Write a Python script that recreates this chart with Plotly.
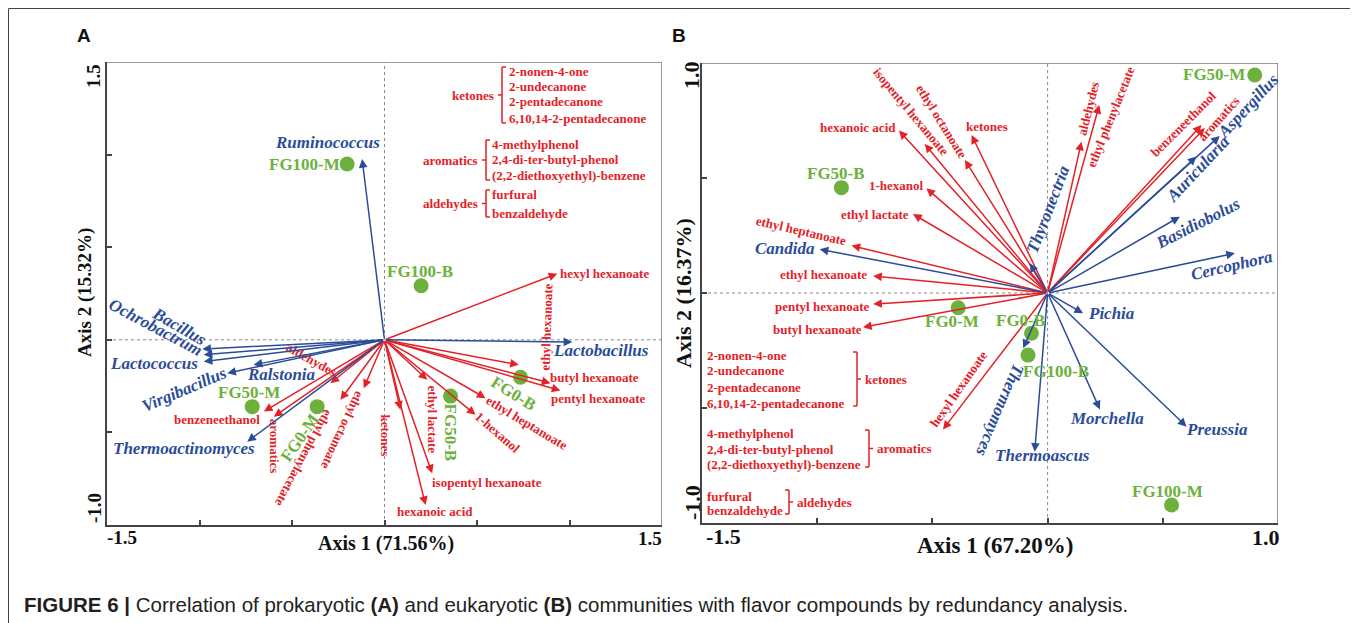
import plotly.graph_objects as go

# page is photographed at 1358x623; the HTML body has an 8px margin
PAGE_W, PAGE_H = 1358, 623
OFF = 8
W, H = PAGE_W - OFF, PAGE_H - OFF

# ---------------- Panel A (prokaryotic) data ----------------
A_species = ["Ruminococcus", "Lactobacillus", "Bacillus", "Ochrobactrum", "Lactococcus",
             "Virgibacillus", "Ralstonia", "Thermoactinomyces"]
A_species_x = [-0.121, 1.015, -0.985, -0.977, -0.977, -0.850, -0.707, -0.742]
A_species_y = [0.976, -0.012, -0.050, -0.081, -0.117, -0.180, -0.135, -0.550]

A_comp = ["hexyl hexanoate", "ethyl hexanoate", "butyl hexanoate", "pentyl hexanoate",
          "ethyl heptanoate", "1-hexanol", "ethyl lactate", "isopentyl hexanoate",
          "hexanoic acid", "ketones", "ethyl octanoate", "ethyl phenylacetate",
          "aromatics", "benzeneethanol", "aldehydes"]
A_comp_x = [0.934, 0.726, 0.897, 0.951, 0.546, 0.492, 0.231, 0.258, 0.222, 0.086,
            -0.112, -0.238, -0.598, -0.652, -0.292]
A_comp_y = [0.357, -0.135, -0.234, -0.274, -0.315, -0.405, -0.216, -0.721, -0.892, -0.378,
            -0.261, -0.324, -0.415, -0.387, -0.234]

A_samples = ["FG100-M", "FG100-B", "FG50-M", "FG0-M", "FG0-B", "FG50-B"]
A_samples_x = [-0.202, 0.198, -0.715, -0.364, 0.735, 0.357]
A_samples_y = [0.949, 0.292, -0.361, -0.361, -0.202, -0.304]

A_xrange = [-1.5, 1.5]
A_yrange = [-1.0, 1.5]
A_xticks = [-1.5, -1.0, -0.5, 0.0, 0.5, 1.0, 1.5]
A_yticks = [-1.0, -0.5, 0.0, 0.5, 1.0, 1.5]
A_xticklabels = ["-1.5", "1.5"]
A_yticklabels = ["1.5", "-1.0"]
A_xtitle = "Axis 1 (71.56%)"
A_ytitle = "Axis 2 (15.32%)"

# ---------------- Panel B (eukaryotic) data ----------------
B_species = ["Aspergillus", "Auricularia", "Basidiobolus", "Cercophora", "Thyronectria",
             "Candida", "Pichia", "Morchella", "Preussia", "Thermoascus", "Thermomyces"]
B_species_x = [0.747, 0.646, 0.574, 0.813, -0.077, -0.989, 0.154, 0.227, 0.603, -0.056, -0.106]
B_species_y = [0.683, 0.593, 0.332, 0.173, 0.129, 0.190, -0.088, -0.506, -0.581, -0.690, -0.240]

B_comp = ["hexanoic acid", "isopentyl hexanoate", "ethyl octanoate", "ketones", "1-hexanol",
          "ethyl lactate", "ethyl heptanoate", "ethyl hexanoate", "pentyl hexanoate",
          "butyl hexanoate", "hexyl hexanoate", "aldehydes", "ethyl phenylacetate",
          "benzeneethanol", "aromatics"]
B_comp_x = [-0.645, -0.533, -0.359, -0.330, -0.526, -0.584, -0.851, -0.757, -0.757, -0.801,
            -0.454, 0.147, 0.224, 0.668, 0.682]
B_comp_y = [0.706, 0.648, 0.578, 0.687, 0.455, 0.343, 0.206, 0.074, -0.048, -0.149,
            -0.593, 0.658, 0.817, 0.730, 0.717]

B_samples = ["FG50-M", "FG50-B", "FG0-M", "FG0-B", "FG100-B", "FG100-M"]
B_samples_x = [0.899, -0.895, -0.388, -0.070, -0.085, 0.538]
B_samples_y = [0.948, 0.458, -0.064, -0.175, -0.270, -0.922]

B_xrange = [-1.5, 1.0]
B_yrange = [-1.0, 1.0]
B_xticks = [-1.5, -1.0, -0.5, 0.0, 0.5, 1.0]
B_yticks = [-1.0, -0.5, 0.0, 0.5, 1.0]
B_xticklabels = ["-1.5", "1.0"]
B_yticklabels = ["1.0", "-1.0"]
B_xtitle = "Axis 1 (67.20%)"
B_ytitle = "Axis 2 (16.37%)"

# grouped compound classes
ket_items = ["2-nonen-4-one", "2-undecanone", "2-pentadecanone", "6,10,14-2-pentadecanone"]
aro_items = ["4-methylphenol", "2,4-di-ter-butyl-phenol", "(2,2-diethoxyethyl)-benzene"]
ald_items = ["furfural", "benzaldehyde"]
group_names = ["ketones", "aromatics", "aldehydes"]

caption = ("<b>FIGURE 6 |</b> Correlation of prokaryotic <b>(A)</b> and eukaryotic <b>(B)</b> "
           "communities with flavor compounds by redundancy analysis.")

# ---------------- label layout (pixel offsets: dx, dy up, angle) ----------------
A_species_lbl = [(-35, 17, 0), (29, -8, 0), (-23, 23, 30), (-48, 27, 28), (-50, -2, 0),
                 (-43, -16, -23), (28, -10, 0), (-63, -7, 0)]
A_comp_lbl = [(47, 0, 0), (28, 38, -88), (44, 6, 0), (38, -8, 0), (41, -24, 31), (22, -18, 41),
              (5, -40, 90), (55, -9, 0), (9, -6, 0), (-15, -26, 90), (-21, -42, 115),
              (-37, -58, 118), (0, -30, 90), (-47, -8, 0), (-19, 24, 29)]
A_samples_lbl = [(-43, 0, 0), (-1, 14, 0), (-3, 14, 0), (-17, -31, -55), (-7, -16, 32), (0, -36, 90)]

B_species_lbl = [(29, 30, -47), (2, -12, -47), (18, -7, -27), (-3, -12, -13), (18, 54, -69),
                 (-35, 1, 0), (28, 0, 0), (7, -9, 0), (30, -3, 0), (8, -4, 0), (-23, -62, 113)]
B_comp_lbl = [(-41, 3, 0), (-14, 32, 50), (-23, 39, 58), (15, 8, 0), (-30, 3, 0), (-38, 0, 0),
              (-51, 15, 13), (-50, 1, 0), (-51, -2, 0), (-46, -2, 0), (15, 40, -55),
              (7, 33, -76), (11, -12, -68), (-19, 1, -45), (14, 10, -48)]
B_samples_lbl = [(-41, 0, 0), (-5, 14, 0), (-6, -14, 0), (-11, 13, 0), (28, -16, 0), (-4, 14, 0)]

RED = "#e32228"
BLUE = "#2a4c99"
GREEN = "#6cb13c"
SERIF = "Liberation Serif, Times New Roman, serif"
SANS = "Liberation Sans, Arial, sans-serif"


def P(px, py):
    """page pixel -> paper fraction"""
    return (px - OFF) / W, 1 - (py - OFF) / H


def dom_x(p0, p1):
    return [(p0 - OFF) / W, (p1 - OFF) / W]


def dom_y(top, bottom):
    return [1 - (bottom - OFF) / H, 1 - (top - OFF) / H]


fig = go.Figure()
annotations = []
shapes = []

# samples (green dots)
for xs, ys, xr, yr in [(A_samples_x, A_samples_y, "x", "y"), (B_samples_x, B_samples_y, "x2", "y2")]:
    fig.add_trace(go.Scatter(x=xs, y=ys, xaxis=xr, yaxis=yr, mode="markers",
                             marker=dict(size=15, color=GREEN), hoverinfo="skip"))


def add_vectors(xs, ys, names, lbls, color, xr, yr, fsize, italic):
    for x, y, n, (dx, dy, ang) in zip(xs, ys, names, lbls):
        annotations.append(dict(x=x, y=y, ax=0, ay=0, xref=xr, yref=yr, axref=xr, ayref=yr,
                                showarrow=True, arrowhead=2, arrowsize=1.15, arrowwidth=1.5,
                                arrowcolor=color, text="", standoff=0))
        t = f"<b><i>{n}</i></b>" if italic else f"<b>{n}</b>"
        annotations.append(dict(x=x, y=y, xref=xr, yref=yr, text=t, showarrow=False,
                                xshift=dx, yshift=dy, textangle=ang,
                                font=dict(family=SERIF, size=fsize, color=color)))


def add_sample_labels(xs, ys, names, lbls, xr, yr):
    for x, y, n, (dx, dy, ang) in zip(xs, ys, names, lbls):
        annotations.append(dict(x=x, y=y, xref=xr, yref=yr, text=f"<b>{n}</b>", showarrow=False,
                                xshift=dx, yshift=dy, textangle=ang,
                                font=dict(family=SERIF, size=17, color=GREEN)))


add_vectors(A_comp_x, A_comp_y, A_comp, A_comp_lbl, RED, "x", "y", 13, False)
add_vectors(A_species_x, A_species_y, A_species, A_species_lbl, BLUE, "x", "y", 17, True)
add_sample_labels(A_samples_x, A_samples_y, A_samples, A_samples_lbl, "x", "y")
add_vectors(B_comp_x, B_comp_y, B_comp, B_comp_lbl, RED, "x2", "y2", 13, False)
add_vectors(B_species_x, B_species_y, B_species, B_species_lbl, BLUE, "x2", "y2", 17, True)
add_sample_labels(B_samples_x, B_samples_y, B_samples, B_samples_lbl, "x2", "y2")


def line_px(x0, y0, x1, y1, color=RED, width=1.5):
    a0, b0 = P(x0, y0)
    a1, b1 = P(x1, y1)
    shapes.append(dict(type="line", xref="paper", yref="paper", x0=a0, y0=b0, x1=a1, y1=b1,
                       line=dict(color=color, width=width)))


def text_px(px, py, t, size, color, anchor="left", angle=0, family=SERIF):
    a, b = P(px, py)
    annotations.append(dict(x=a, y=b, xref="paper", yref="paper", text=t, showarrow=False,
                            xanchor=anchor, yanchor="middle", textangle=angle,
                            font=dict(family=family, size=size, color=color)))


def group(items, name, item_x, item_ys, bx, by0, by1, side):
    for t, y in zip(items, item_ys):
        text_px(item_x, y, f"<b>{t}</b>", 13, RED, "left")
    ym = (by0 + by1) / 2
    s = 4 if side == "left" else -4
    line_px(bx, by0, bx, by1)
    line_px(bx, by0, bx + s, by0)
    line_px(bx, by1, bx + s, by1)
    line_px(bx - s, ym, bx, ym)
    if side == "left":
        text_px(bx - s - 2, ym, f"<b>{name}</b>", 13, RED, "right")
    else:
        text_px(bx - s + 2, ym, f"<b>{name}</b>", 13, RED, "left")


# Panel A groups (bracket opens to the right)
group(ket_items, group_names[0], 507, [71.7, 86.5, 102, 119], 502, 67, 123, "left")
group(aro_items, group_names[1], 490, [144.3, 159.8, 175.7], 486, 140, 180, "left")
group(ald_items, group_names[2], 490, [194.3, 213.3], 486, 190, 217, "left")
# Panel B groups (bracket closes on the right)
group(ket_items, group_names[0], 705, [355, 370.5, 387.3, 403.3], 857, 352, 406, "right")
group(aro_items, group_names[1], 705, [433.3, 449.3, 464.3], 869, 430, 467, "right")
group(ald_items, group_names[2], 705, [496, 510.7], 789, 490, 514, "right")

# outer frame (top, left, right)
line_px(8.5, 8.5, 1355.5, 8.5, "#444", 1)
line_px(8.5, 8.5, 8.5, 640, "#444", 1)
line_px(1355.5, 8.5, 1355.5, 640, "#444", 1)

# axes: dotted origin lines + top/right lines
for xr, yr, xrg, yrg in [("x", "y", A_xrange, A_yrange), ("x2", "y2", B_xrange, B_yrange)]:
    shapes.append(dict(type="line", xref=xr, yref=yr, x0=0, x1=0, y0=yrg[0], y1=yrg[1],
                       line=dict(color="#888", width=1, dash="dot"), layer="below"))
    shapes.append(dict(type="line", xref=xr, yref=yr, x0=xrg[0], x1=xrg[1], y0=0, y1=0,
                       line=dict(color="#888", width=1, dash="dot"), layer="below"))
    shapes.append(dict(type="line", xref=xr, yref=yr, x0=xrg[0], x1=xrg[1], y0=yrg[1], y1=yrg[1],
                       line=dict(color="#777", width=1.5)))
    shapes.append(dict(type="line", xref=xr, yref=yr, x0=xrg[1], x1=xrg[1], y0=yrg[0], y1=yrg[1],
                       line=dict(color="#777", width=1.5)))

# tick labels, axis titles, panel letters
text_px(122, 537, f"<b>{A_xticklabels[0]}</b>", 19, "#111", "center")
text_px(650, 538, f"<b>{A_xticklabels[1]}</b>", 19, "#111", "center")
text_px(93, 76, f"<b>{A_yticklabels[0]}</b>", 19, "#111", "center", -90)
text_px(94, 508, f"<b>{A_yticklabels[1]}</b>", 19, "#111", "center", -90)
text_px(386, 543, f"<b>{A_xtitle}</b>", 20, "#111", "center")
text_px(85, 293, f"<b>{A_ytitle}</b>", 19, "#111", "center", -90)

text_px(723, 536, f"<b>{B_xticklabels[0]}</b>", 22, "#111", "center")
text_px(1266, 537, f"<b>{B_xticklabels[1]}</b>", 22, "#111", "center")
text_px(692, 75, f"<b>{B_yticklabels[0]}</b>", 22, "#111", "center", -90)
text_px(692, 503, f"<b>{B_yticklabels[1]}</b>", 22, "#111", "center", -90)
text_px(995, 545, f"<b>{B_xtitle}</b>", 23, "#111", "center")
text_px(683, 293, f"<b>{B_ytitle}</b>", 22, "#111", "center", -90)

text_px(84, 35, "<b>A</b>", 19, "#111", "center", family=SANS)
text_px(679, 35, "<b>B</b>", 19, "#111", "center", family=SANS)

text_px(22, 604, caption, 20.5, "#231f20", "left", family=SANS)

axis_common = dict(showgrid=False, zeroline=False, showline=True, linecolor="#444", linewidth=2,
                   ticks="inside", ticklen=5, tickwidth=1.5, tickcolor="#444",
                   showticklabels=False, fixedrange=True)

fig.update_layout(
    width=W, height=H, margin=dict(l=0, r=0, t=0, b=0),
    paper_bgcolor="white", plot_bgcolor="white", showlegend=False,
    xaxis=dict(domain=dom_x(107, 662), range=A_xrange, tickvals=A_xticks, anchor="y", **axis_common),
    yaxis=dict(domain=dom_y(62, 525), range=A_yrange, tickvals=A_yticks, anchor="x", **axis_common),
    xaxis2=dict(domain=dom_x(702, 1278), range=B_xrange, tickvals=B_xticks, anchor="y2", **axis_common),
    yaxis2=dict(domain=dom_y(63, 523), range=B_yrange, tickvals=B_yticks, anchor="x2", **axis_common),
    annotations=annotations, shapes=shapes,
)

fig.write_html("out.html")
